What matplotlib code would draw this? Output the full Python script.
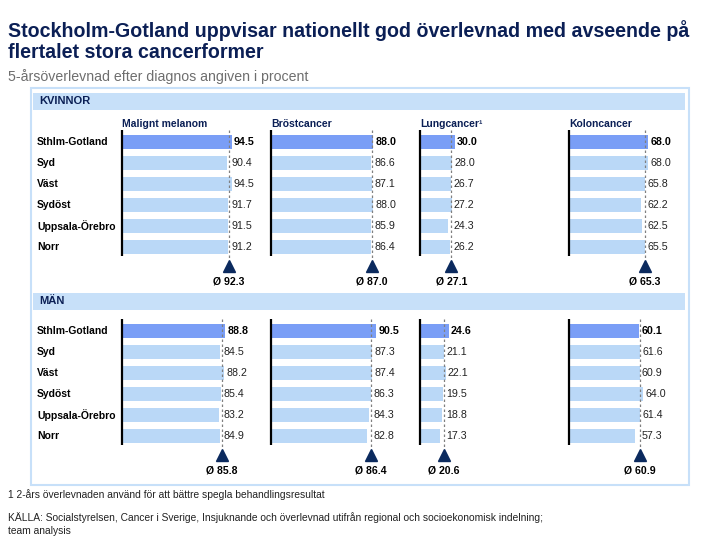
import matplotlib
matplotlib.use("Agg")
import matplotlib.pyplot as plt
from matplotlib.patches import Rectangle

plt.rcParams["font.family"] = ["Liberation Sans", "DejaVu Sans"]

# ── data ────────────────────────────────────────────────────────────────
regions = ["Sthlm-Gotland", "Syd", "Väst", "Sydöst", "Uppsala-Örebro", "Norr"]
cancers = ["Malignt melanom", "Bröstcancer", "Lungcancer¹", "Koloncancer"]
sections = ["KVINNOR", "MÄN"]

kvinnor = {
    "Malignt melanom": [94.5, 90.4, 94.5, 91.7, 91.5, 91.2],
    "Bröstcancer": [88.0, 86.6, 87.1, 88.0, 85.9, 86.4],
    "Lungcancer¹": [30.0, 28.0, 26.7, 27.2, 24.3, 26.2],
    "Koloncancer": [68.0, 68.0, 65.8, 62.2, 62.5, 65.5],
}
kvinnor_avg = [92.3, 87.0, 27.1, 65.3]

man = {
    "Malignt melanom": [88.8, 84.5, 88.2, 85.4, 83.2, 84.9],
    "Bröstcancer": [90.5, 87.3, 87.4, 86.3, 84.3, 82.8],
    "Lungcancer¹": [24.6, 21.1, 22.1, 19.5, 18.8, 17.3],
    "Koloncancer": [60.1, 61.6, 60.9, 64.0, 61.4, 57.3],
}
man_avg = [85.8, 86.4, 20.6, 60.9]

NAVY = "#0b1f55"
HIGHLIGHT = "#7a9ef6"
LIGHT = "#bad8f7"
BAND = "#c7e0f9"

W, H = 720, 540


def fx(x):
    return x / W


def fy(y):
    return 1 - y / H


fig = plt.figure(figsize=(7.2, 5.4), dpi=100)

# titles
fig.text(fx(8), fy(31), "Stockholm-Gotland uppvisar nationellt god överlevnad med avseende på",
         fontsize=14.1, fontweight="bold", color=NAVY, va="center")
fig.text(fx(8), fy(53), "flertalet stora cancerformer",
         fontsize=14.1, fontweight="bold", color=NAVY, va="center")
fig.text(fx(8), fy(77), "5-årsöverlevnad efter diagnos angiven i procent",
         fontsize=10.2, color="#6e6e6e", va="center")

# outer frame
fig.patches.append(Rectangle((fx(31), fy(485)), fx(689) - fx(31), fy(88) - fy(485),
                             transform=fig.transFigure, fill=False,
                             edgecolor=BAND, linewidth=1.5))

panel_x0 = [122, 271, 420, 569]
panel_w = 145
scale = 1.16  # px per percent
row0 = [142, 331]
band_top = [93, 293]
row_h = 21

for s, (sec, data, avgs) in enumerate([("KVINNOR", kvinnor, kvinnor_avg),
                                       ("MÄN", man, man_avg)]):
    fig.patches.append(Rectangle((fx(33), fy(band_top[s] + 17)), fx(685) - fx(33), 17 / H,
                                 transform=fig.transFigure, color=BAND, linewidth=0))
    fig.text(fx(39), fy(band_top[s] + 8.5), sec, fontsize=8, fontweight="bold",
             color=NAVY, va="center")

    top = row0[s] - row_h / 2
    bottom = row0[s] + 5 * row_h + row_h / 2
    for c, cancer in enumerate(cancers):
        ax = fig.add_axes([fx(panel_x0[c]), fy(bottom), panel_w / W, (bottom - top) / H])
        ax.set_xlim(0, panel_w / scale)
        ax.set_ylim(5.5, -0.5)
        ax.axis("off")
        vals = data[cancer]
        avg = avgs[c]
        ys = range(len(regions))
        colors = [HIGHLIGHT] + [LIGHT] * (len(vals) - 1)
        ax.barh(ys, vals, height=0.63, color=colors, linewidth=0)
        ax.plot([0, 0], [-0.55, 5.42], color="black", linewidth=1.6,
                solid_capstyle="butt", clip_on=False)
        ax.plot([avg, avg], [-0.55, 5.62], color="#808080", linewidth=0.9,
                dashes=(2, 2), clip_on=False)
        ax.plot([avg], [5.9], marker="^", markersize=9, color="#0b2a5e",
                linestyle="none", clip_on=False)
        ax.text(avg, 6.62, f"Ø {avg:.1f}", fontsize=7.6, fontweight="bold",
                ha="center", va="center", clip_on=False)
        for i, v in enumerate(vals):
            ax.text(max(v, avg) + 2.0, i, f"{v:.1f}", fontsize=7.7,
                    fontweight="bold" if i == 0 else "normal",
                    color="black" if i == 0 else "#222222", va="center")
        if s == 0:
            ax.text(0, -0.86, cancer, fontsize=7.5, fontweight="bold", color=NAVY,
                    va="center", clip_on=False)
        if c == 0:
            for i, r in enumerate(regions):
                ax.text(-(panel_x0[0] - 37) / scale, i, r, fontsize=7.5,
                        fontweight="bold", va="center", clip_on=False)

fig.text(fx(8), fy(495), "1 2-års överlevnaden använd för att bättre spegla behandlingsresultat",
         fontsize=7.4, color="#222222", va="center")
fig.text(fx(8), fy(518), "KÄLLA: Socialstyrelsen, Cancer i Sverige, Insjuknande och överlevnad "
         "utifrån regional och socioekonomisk indelning;",
         fontsize=7.4, color="#222222", va="center")
fig.text(fx(8), fy(531), "team analysis", fontsize=7.4, color="#222222", va="center")

fig.savefig("out.png", dpi=100)
